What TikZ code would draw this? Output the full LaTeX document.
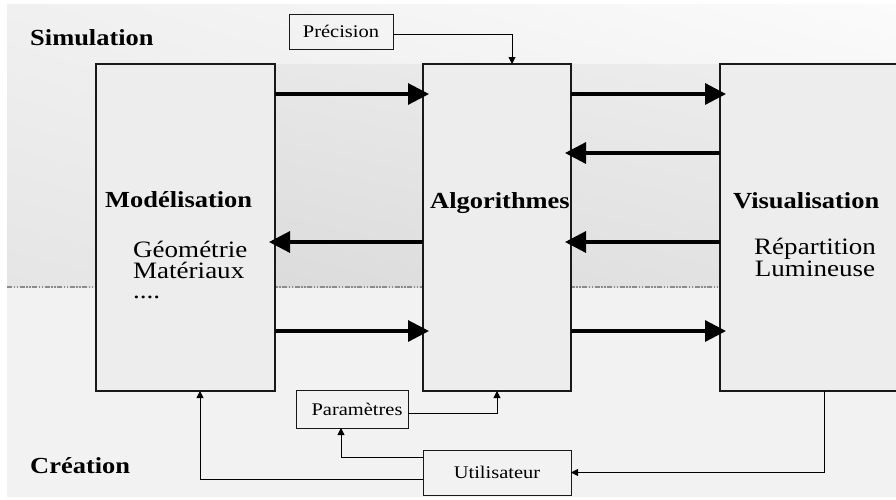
\documentclass[tikz,border=0pt]{standalone}
\usepackage{fontspec}
\setmainfont{Liberation Serif}[FakeStretch=1.15]
\usetikzlibrary{arrows.meta,calc,shadings}
\definecolor{bglow}{HTML}{F2F2F2}
\definecolor{boxfill}{HTML}{EDEDED}
\definecolor{dashgray}{HTML}{8C8C8C}
\definecolor{bgUL}{HTML}{F0F0F0}
\definecolor{bgUR}{HTML}{FBFBFB}
\definecolor{bgLL}{HTML}{E5E5E5}
\definecolor{bgLR}{HTML}{EEEEEE}
\definecolor{bdUL}{HTML}{E6E6E6}
\definecolor{bdUR}{HTML}{EEEEEE}
\definecolor{bdLL}{HTML}{D9D9D9}
\definecolor{bdLR}{HTML}{E4E4E4}
\tikzset{
  bigbox/.style={draw=black!90, line width=1.2pt, fill=boxfill, inner sep=0pt, outer sep=0pt, anchor=north west, minimum height=327pt},
  smallbox/.style={draw=black!90, line width=0.9pt, inner sep=0pt, outer sep=0pt, font=\fontsize{17.8}{20}\selectfont},
  lbl/.style={inner sep=0pt, font=\fontsize{23}{26}\selectfont\bfseries, anchor=base west},
  txt/.style={inner sep=0pt, font=\fontsize{23.5}{20.5}\selectfont},
  bigarrow/.style={line width=3.2pt, -{Triangle[length=21pt,width=21pt]}, shorten >=-6pt},
  thinarrow/.style={line width=0.9pt, -{Triangle[length=7pt,width=7pt]}},
  sepline/.style={dashgray, line width=1.2pt, dash pattern=on 5pt off 1.5pt on 1.5pt off 1.5pt on 1.5pt off 1.5pt}
}
\begin{document}
\begin{tikzpicture}[x=1pt,y=-1pt]
\useasboundingbox (0,0) rectangle (896,499);
\clip (0,0) rectangle (896,499);
% background
\fill[white] (0,0) rectangle (896,499);
\fill[bglow] (7,4) rectangle (896,497);
\shade[upper left=bgUL, upper right=bgUR, lower left=bgLL, lower right=bgLR]
  (7,4) rectangle (896,287);
\shade[upper left=bdUL, upper right=bdUR, lower left=bdLL, lower right=bdLR]
  (96,64) rectangle (896,287);
\draw[sepline] (7,287) -- (896,287);
% rows for the thick arrows
\coordinate (r1) at (0,94);
\coordinate (r2) at (0,153);
\coordinate (r3) at (0,242);
\coordinate (r4) at (0,331);
% main boxes
\node[bigbox, minimum width=179pt] (mod) at (96,64) {};
\node[bigbox, minimum width=148pt] (algo) at (423,64) {};
\node[bigbox, minimum width=260pt] (vis) at (720,64) {};
% small boxes
\node[smallbox, minimum width=104pt, minimum height=35pt] (prec) at (341,31.5) {Précision};
\node[smallbox, minimum width=112pt, minimum height=38pt, fill=bglow] (param) at (352,409) {\hspace*{10pt}Paramètres};
\node[smallbox, minimum width=148pt, minimum height=45pt, fill=bglow] (user) at (497,472.5) {Utilisateur};
% labels
\node[lbl] (tsim) at (30,45) {Simulation};
\node[lbl] (tcre) at (30,473) {Création};
\node[lbl] (tmod) at (105,207) {Modélisation};
\node[lbl] (talgo) at (430,208) {Algorithmes};
\node[lbl] (tvis) at (733,208) {Visualisation};
\node[txt, anchor=north west, align=left] (tgeo) at (133,241) {Géométrie\\Matériaux\\....};
\node[txt, anchor=north, align=center] (trep) at (815,238) {Répartition\\Lumineuse};
% thick arrows
\draw[bigarrow] (mod.east |- r1) -- (algo.west |- r1);
\draw[bigarrow] (algo.west |- r3) -- (mod.east |- r3);
\draw[bigarrow] (mod.east |- r4) -- (algo.west |- r4);
\draw[bigarrow] (algo.east |- r1) -- (vis.west |- r1);
\draw[bigarrow] (vis.west |- r2) -- (algo.east |- r2);
\draw[bigarrow] (vis.west |- r3) -- (algo.east |- r3);
\draw[bigarrow] (algo.east |- r4) -- (vis.west |- r4);
% thin arrows
\coordinate (pin) at ($(algo.north)+(15,0)$);
\coordinate (vout) at ($(vis.south west)+(104,0)$);
\coordinate (pbot) at ($(param.south)+(-11,0)$);
\coordinate (mbot) at ($(mod.south)+(14.5,0)$);
\draw[thinarrow] ([yshift=-2.5pt]prec.east) -| (pin);
\draw[thinarrow] ([yshift=-4pt]param.east) -| (algo.south);
\draw[thinarrow] (vout) |- (user.east);
\draw[thinarrow] ([yshift=15.5pt]user.west) -| (pbot);
\draw[thinarrow] ([yshift=-6.5pt]user.west) -| (mbot);
\end{tikzpicture}
\end{document}
